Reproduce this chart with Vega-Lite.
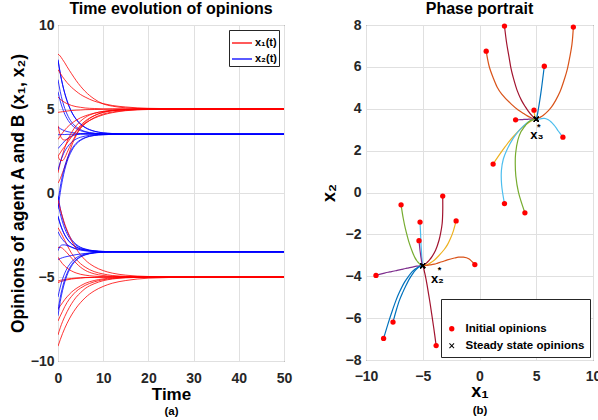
{
"$schema": "https://vega.github.io/schema/vega-lite/v6.json",
"padding": {"left": 8, "top": 0, "right": 5, "bottom": 5},
"background": "white",
"config": {
  "font": "Liberation Sans",
  "view": {"stroke": "#262626", "strokeWidth": 1},
  "axis": {"labelFont": "Liberation Sans", "labelFontWeight": "bold", "labelFontSize": 14, "labelColor": "#262626", "titleFont": "Liberation Sans", "titleFontWeight": "bold", "titleColor": "#000000", "domain": false, "ticks": false, "gridColor": "#E0E0E0", "gridWidth": 1, "labelFlush": false, "labelOverlap": false},
  "title": {"font": "Liberation Sans", "fontSize": 16, "fontWeight": "bold", "color": "#000000", "offset": 1},
  "legend": {"labelFont": "Liberation Sans", "labelFontWeight": "bold", "labelColor": "#000000", "strokeColor": "#262626", "fillColor": "white"}
},
"datasets": {
"traj": [
{"g":"U1","t":0,"a":0.59,"b":6.75},{"g":"U1","t":0.5,"a":0.85,"b":6.03},{"g":"U1","t":1,"a":1.21,"b":5.47},{"g":"U1","t":1.5,"a":1.56,"b":5.03},{"g":"U1","t":2,"a":1.96,"b":4.7},{"g":"U1","t":3,"a":2.8,"b":4.22},{"g":"U1","t":4,"a":3.41,"b":3.94},{"g":"U1","t":5,"a":3.9,"b":3.77},{"g":"U1","t":6,"a":4.21,"b":3.66},{"g":"U1","t":8,"a":4.6,"b":3.56},{"g":"U1","t":10,"a":4.8,"b":3.52},{"g":"U1","t":12,"a":4.9,"b":3.51},{"g":"U1","t":15,"a":4.96,"b":3.5},{"g":"U1","t":20,"a":5,"b":3.5},{"g":"U1","t":30,"a":5,"b":3.5},{"g":"U1","t":50,"a":5,"b":3.5},
{"g":"U2","t":0,"a":2.2,"b":7.95},{"g":"U2","t":0.5,"a":2.39,"b":7.14},{"g":"U2","t":1,"a":2.6,"b":6.48},{"g":"U2","t":1.5,"a":2.77,"b":5.94},{"g":"U2","t":2,"a":2.97,"b":5.5},{"g":"U2","t":3,"a":3.34,"b":4.84},{"g":"U2","t":4,"a":3.7,"b":4.4},{"g":"U2","t":5,"a":4.03,"b":4.1},{"g":"U2","t":6,"a":4.28,"b":3.9},{"g":"U2","t":8,"a":4.6,"b":3.68},{"g":"U2","t":10,"a":4.8,"b":3.58},{"g":"U2","t":12,"a":4.9,"b":3.54},{"g":"U2","t":15,"a":4.96,"b":3.51},{"g":"U2","t":20,"a":4.99,"b":3.5},{"g":"U2","t":30,"a":5,"b":3.5},{"g":"U2","t":50,"a":5,"b":3.5},
{"g":"U3","t":0,"a":8.27,"b":7.9},{"g":"U3","t":0.5,"a":8.15,"b":7.1},{"g":"U3","t":1,"a":7.95,"b":6.45},{"g":"U3","t":1.5,"a":7.75,"b":5.92},{"g":"U3","t":2,"a":7.52,"b":5.48},{"g":"U3","t":3,"a":7.1,"b":4.82},{"g":"U3","t":4,"a":6.7,"b":4.39},{"g":"U3","t":5,"a":6.35,"b":4.09},{"g":"U3","t":6,"a":6.05,"b":3.9},{"g":"U3","t":8,"a":5.6,"b":3.68},{"g":"U3","t":10,"a":5.3,"b":3.58},{"g":"U3","t":12,"a":5.17,"b":3.54},{"g":"U3","t":15,"a":5.07,"b":3.51},{"g":"U3","t":20,"a":5.02,"b":3.5},{"g":"U3","t":30,"a":5,"b":3.5},{"g":"U3","t":50,"a":5,"b":3.5},
{"g":"U4","t":0,"a":5.71,"b":6.03},{"g":"U4","t":0.5,"a":5.58,"b":5.47},{"g":"U4","t":1,"a":5.48,"b":5.04},{"g":"U4","t":1.5,"a":5.39,"b":4.69},{"g":"U4","t":2,"a":5.32,"b":4.43},{"g":"U4","t":3,"a":5.21,"b":4.06},{"g":"U4","t":4,"a":5.14,"b":3.84},{"g":"U4","t":5,"a":5.1,"b":3.71},{"g":"U4","t":6,"a":5.06,"b":3.63},{"g":"U4","t":8,"a":5.03,"b":3.55},{"g":"U4","t":10,"a":5.01,"b":3.52},{"g":"U4","t":12,"a":5.01,"b":3.51},{"g":"U4","t":15,"a":5,"b":3.5},{"g":"U4","t":20,"a":5,"b":3.5},{"g":"U4","t":30,"a":5,"b":3.5},{"g":"U4","t":50,"a":5,"b":3.5},
{"g":"U5","t":0,"a":4.8,"b":3.93},{"g":"U5","t":0.5,"a":4.82,"b":3.83},{"g":"U5","t":1,"a":4.84,"b":3.76},{"g":"U5","t":1.5,"a":4.86,"b":3.7},{"g":"U5","t":2,"a":4.88,"b":3.66},{"g":"U5","t":3,"a":4.91,"b":3.6},{"g":"U5","t":4,"a":4.93,"b":3.56},{"g":"U5","t":5,"a":4.94,"b":3.54},{"g":"U5","t":6,"a":4.96,"b":3.52},{"g":"U5","t":8,"a":4.97,"b":3.51},{"g":"U5","t":10,"a":4.98,"b":3.5},{"g":"U5","t":12,"a":4.99,"b":3.5},{"g":"U5","t":15,"a":5,"b":3.5},{"g":"U5","t":20,"a":5,"b":3.5},{"g":"U5","t":30,"a":5,"b":3.5},{"g":"U5","t":50,"a":5,"b":3.5},
{"g":"U6","t":0,"a":3.18,"b":3.47},{"g":"U6","t":0.5,"a":3.39,"b":3.47},{"g":"U6","t":1,"a":3.58,"b":3.48},{"g":"U6","t":1.5,"a":3.75,"b":3.48},{"g":"U6","t":2,"a":3.9,"b":3.49},{"g":"U6","t":3,"a":4.14,"b":3.49},{"g":"U6","t":4,"a":4.33,"b":3.5},{"g":"U6","t":5,"a":4.48,"b":3.5},{"g":"U6","t":6,"a":4.59,"b":3.5},{"g":"U6","t":8,"a":4.75,"b":3.5},{"g":"U6","t":10,"a":4.85,"b":3.5},{"g":"U6","t":12,"a":4.91,"b":3.5},{"g":"U6","t":15,"a":4.96,"b":3.5},{"g":"U6","t":20,"a":4.99,"b":3.5},{"g":"U6","t":30,"a":5,"b":3.5},{"g":"U6","t":50,"a":5,"b":3.5},
{"g":"U7","t":0,"a":7.35,"b":2.64},{"g":"U7","t":0.5,"a":7.13,"b":2.8},{"g":"U7","t":1,"a":6.92,"b":2.95},{"g":"U7","t":1.5,"a":6.74,"b":3.1},{"g":"U7","t":2,"a":6.57,"b":3.22},{"g":"U7","t":3,"a":6.29,"b":3.38},{"g":"U7","t":4,"a":6.06,"b":3.47},{"g":"U7","t":5,"a":5.86,"b":3.52},{"g":"U7","t":6,"a":5.71,"b":3.54},{"g":"U7","t":8,"a":5.47,"b":3.53},{"g":"U7","t":10,"a":5.32,"b":3.51},{"g":"U7","t":12,"a":5.21,"b":3.5},{"g":"U7","t":15,"a":5.12,"b":3.5},{"g":"U7","t":20,"a":5.04,"b":3.5},{"g":"U7","t":30,"a":5.01,"b":3.5},{"g":"U7","t":50,"a":5,"b":3.5},
{"g":"U8","t":0,"a":1.2,"b":1.36},{"g":"U8","t":0.5,"a":1.79,"b":1.83},{"g":"U8","t":1,"a":2.28,"b":2.2},{"g":"U8","t":1.5,"a":2.69,"b":2.49},{"g":"U8","t":2,"a":3.05,"b":2.71},{"g":"U8","t":3,"a":3.6,"b":3.02},{"g":"U8","t":4,"a":4.0,"b":3.21},{"g":"U8","t":5,"a":4.28,"b":3.32},{"g":"U8","t":6,"a":4.49,"b":3.39},{"g":"U8","t":8,"a":4.74,"b":3.46},{"g":"U8","t":10,"a":4.86,"b":3.49},{"g":"U8","t":12,"a":4.93,"b":3.49},{"g":"U8","t":15,"a":4.97,"b":3.5},{"g":"U8","t":20,"a":5,"b":3.5},{"g":"U8","t":30,"a":5,"b":3.5},{"g":"U8","t":50,"a":5,"b":3.5},
{"g":"U9","t":0,"a":2.2,"b":-0.53},{"g":"U9","t":0.5,"a":1.95,"b":0.36},{"g":"U9","t":1,"a":1.93,"b":1.05},{"g":"U9","t":1.5,"a":2.1,"b":1.6},{"g":"U9","t":2,"a":2.4,"b":2.02},{"g":"U9","t":3,"a":2.98,"b":2.6},{"g":"U9","t":4,"a":3.48,"b":2.96},{"g":"U9","t":5,"a":3.85,"b":3.17},{"g":"U9","t":6,"a":4.12,"b":3.3},{"g":"U9","t":8,"a":4.48,"b":3.43},{"g":"U9","t":10,"a":4.7,"b":3.47},{"g":"U9","t":12,"a":4.82,"b":3.49},{"g":"U9","t":15,"a":4.92,"b":3.5},{"g":"U9","t":20,"a":4.98,"b":3.5},{"g":"U9","t":30,"a":5,"b":3.5},{"g":"U9","t":50,"a":5,"b":3.5},
{"g":"U10","t":0,"a":4.0,"b":-0.97},{"g":"U10","t":0.5,"a":3.43,"b":0.02},{"g":"U10","t":1,"a":3.2,"b":0.79},{"g":"U10","t":1.5,"a":3.15,"b":1.39},{"g":"U10","t":2,"a":3.18,"b":1.86},{"g":"U10","t":3,"a":3.38,"b":2.5},{"g":"U10","t":4,"a":3.65,"b":2.9},{"g":"U10","t":5,"a":3.95,"b":3.13},{"g":"U10","t":6,"a":4.15,"b":3.28},{"g":"U10","t":8,"a":4.45,"b":3.42},{"g":"U10","t":10,"a":4.65,"b":3.47},{"g":"U10","t":12,"a":4.78,"b":3.49},{"g":"U10","t":15,"a":4.9,"b":3.5},{"g":"U10","t":20,"a":4.97,"b":3.5},{"g":"U10","t":30,"a":5,"b":3.5},{"g":"U10","t":50,"a":5,"b":3.5},
{"g":"L1","t":0,"a":-6.91,"b":-0.59},{"g":"L1","t":0.5,"a":-6.72,"b":-1.23},{"g":"L1","t":1,"a":-6.53,"b":-1.73},{"g":"L1","t":1.5,"a":-6.34,"b":-2.13},{"g":"L1","t":2,"a":-6.18,"b":-2.43},{"g":"L1","t":3,"a":-5.9,"b":-2.85},{"g":"L1","t":4,"a":-5.69,"b":-3.11},{"g":"L1","t":5,"a":-5.52,"b":-3.26},{"g":"L1","t":6,"a":-5.38,"b":-3.35},{"g":"L1","t":8,"a":-5.21,"b":-3.45},{"g":"L1","t":10,"a":-5.11,"b":-3.48},{"g":"L1","t":12,"a":-5.06,"b":-3.49},{"g":"L1","t":15,"a":-5.02,"b":-3.5},{"g":"L1","t":20,"a":-5,"b":-3.5},{"g":"L1","t":30,"a":-5,"b":-3.5},{"g":"L1","t":50,"a":-5,"b":-3.5},
{"g":"L2","t":0,"a":-3.24,"b":-0.17},{"g":"L2","t":0.5,"a":-3.24,"b":-0.91},{"g":"L2","t":1,"a":-3.29,"b":-1.48},{"g":"L2","t":1.5,"a":-3.42,"b":-1.93},{"g":"L2","t":2,"a":-3.56,"b":-2.27},{"g":"L2","t":3,"a":-3.87,"b":-2.76},{"g":"L2","t":4,"a":-4.17,"b":-3.05},{"g":"L2","t":5,"a":-4.42,"b":-3.23},{"g":"L2","t":6,"a":-4.6,"b":-3.33},{"g":"L2","t":8,"a":-4.81,"b":-3.44},{"g":"L2","t":10,"a":-4.91,"b":-3.48},{"g":"L2","t":12,"a":-4.96,"b":-3.49},{"g":"L2","t":15,"a":-4.98,"b":-3.5},{"g":"L2","t":20,"a":-5,"b":-3.5},{"g":"L2","t":30,"a":-5,"b":-3.5},{"g":"L2","t":50,"a":-5,"b":-3.5},
{"g":"L3","t":0,"a":-5.24,"b":-1.41},{"g":"L3","t":0.5,"a":-5.2,"b":-1.87},{"g":"L3","t":1,"a":-5.17,"b":-2.23},{"g":"L3","t":1.5,"a":-5.15,"b":-2.51},{"g":"L3","t":2,"a":-5.12,"b":-2.73},{"g":"L3","t":3,"a":-5.09,"b":-3.03},{"g":"L3","t":4,"a":-5.06,"b":-3.22},{"g":"L3","t":5,"a":-5.05,"b":-3.33},{"g":"L3","t":6,"a":-5.03,"b":-3.4},{"g":"L3","t":8,"a":-5.02,"b":-3.46},{"g":"L3","t":10,"a":-5.01,"b":-3.49},{"g":"L3","t":12,"a":-5,"b":-3.49},{"g":"L3","t":15,"a":-5,"b":-3.5},{"g":"L3","t":20,"a":-5,"b":-3.5},{"g":"L3","t":30,"a":-5,"b":-3.5},{"g":"L3","t":50,"a":-5,"b":-3.5},
{"g":"L4","t":0,"a":-2.06,"b":-1.36},{"g":"L4","t":0.5,"a":-2.3,"b":-1.83},{"g":"L4","t":1,"a":-2.56,"b":-2.2},{"g":"L4","t":1.5,"a":-2.82,"b":-2.49},{"g":"L4","t":2,"a":-3.09,"b":-2.71},{"g":"L4","t":3,"a":-3.59,"b":-3.02},{"g":"L4","t":4,"a":-3.94,"b":-3.21},{"g":"L4","t":5,"a":-4.21,"b":-3.32},{"g":"L4","t":6,"a":-4.41,"b":-3.39},{"g":"L4","t":8,"a":-4.68,"b":-3.46},{"g":"L4","t":10,"a":-4.82,"b":-3.49},{"g":"L4","t":12,"a":-4.91,"b":-3.49},{"g":"L4","t":15,"a":-4.96,"b":-3.5},{"g":"L4","t":20,"a":-4.99,"b":-3.5},{"g":"L4","t":30,"a":-5,"b":-3.5},{"g":"L4","t":50,"a":-5,"b":-3.5},
{"g":"L5","t":0,"a":-5.33,"b":-2.3},{"g":"L5","t":0.5,"a":-5.28,"b":-2.57},{"g":"L5","t":1,"a":-5.24,"b":-2.77},{"g":"L5","t":1.5,"a":-5.2,"b":-2.93},{"g":"L5","t":2,"a":-5.17,"b":-3.06},{"g":"L5","t":3,"a":-5.12,"b":-3.23},{"g":"L5","t":4,"a":-5.09,"b":-3.34},{"g":"L5","t":5,"a":-5.06,"b":-3.4},{"g":"L5","t":6,"a":-5.04,"b":-3.44},{"g":"L5","t":8,"a":-5.02,"b":-3.48},{"g":"L5","t":10,"a":-5.01,"b":-3.49},{"g":"L5","t":12,"a":-5.01,"b":-3.5},{"g":"L5","t":15,"a":-5,"b":-3.5},{"g":"L5","t":20,"a":-5,"b":-3.5},{"g":"L5","t":30,"a":-5,"b":-3.5},{"g":"L5","t":50,"a":-5,"b":-3.5},
{"g":"L6","t":0,"a":-0.41,"b":-3.44},{"g":"L6","t":0.5,"a":-0.95,"b":-3.16},{"g":"L6","t":1,"a":-1.42,"b":-3.09},{"g":"L6","t":1.5,"a":-1.85,"b":-3.09},{"g":"L6","t":2,"a":-2.21,"b":-3.13},{"g":"L6","t":3,"a":-2.83,"b":-3.22},{"g":"L6","t":4,"a":-3.31,"b":-3.31},{"g":"L6","t":5,"a":-3.68,"b":-3.37},{"g":"L6","t":6,"a":-3.98,"b":-3.42},{"g":"L6","t":8,"a":-4.38,"b":-3.46},{"g":"L6","t":10,"a":-4.62,"b":-3.48},{"g":"L6","t":12,"a":-4.77,"b":-3.49},{"g":"L6","t":15,"a":-4.89,"b":-3.5},{"g":"L6","t":20,"a":-4.97,"b":-3.5},{"g":"L6","t":30,"a":-5,"b":-3.5},{"g":"L6","t":50,"a":-5,"b":-3.5},
{"g":"L7","t":0,"a":-9.12,"b":-3.96},{"g":"L7","t":0.5,"a":-8.73,"b":-3.9},{"g":"L7","t":1,"a":-8.37,"b":-3.85},{"g":"L7","t":1.5,"a":-8.05,"b":-3.81},{"g":"L7","t":2,"a":-7.76,"b":-3.78},{"g":"L7","t":3,"a":-7.26,"b":-3.72},{"g":"L7","t":4,"a":-6.85,"b":-3.67},{"g":"L7","t":5,"a":-6.52,"b":-3.63},{"g":"L7","t":6,"a":-6.24,"b":-3.6},{"g":"L7","t":8,"a":-5.83,"b":-3.55},{"g":"L7","t":10,"a":-5.56,"b":-3.52},{"g":"L7","t":12,"a":-5.37,"b":-3.51},{"g":"L7","t":15,"a":-5.21,"b":-3.5},{"g":"L7","t":20,"a":-5.07,"b":-3.5},{"g":"L7","t":30,"a":-5.01,"b":-3.5},{"g":"L7","t":50,"a":-5,"b":-3.5},
{"g":"L8","t":0,"a":-7.62,"b":-6.19},{"g":"L8","t":0.5,"a":-7.32,"b":-5.6},{"g":"L8","t":1,"a":-7.04,"b":-5.13},{"g":"L8","t":1.5,"a":-6.76,"b":-4.77},{"g":"L8","t":2,"a":-6.52,"b":-4.49},{"g":"L8","t":3,"a":-6.15,"b":-4.1},{"g":"L8","t":4,"a":-5.86,"b":-3.86},{"g":"L8","t":5,"a":-5.66,"b":-3.72},{"g":"L8","t":6,"a":-5.5,"b":-3.63},{"g":"L8","t":8,"a":-5.29,"b":-3.55},{"g":"L8","t":10,"a":-5.16,"b":-3.52},{"g":"L8","t":12,"a":-5.09,"b":-3.51},{"g":"L8","t":15,"a":-5.03,"b":-3.5},{"g":"L8","t":20,"a":-5.01,"b":-3.5},{"g":"L8","t":30,"a":-5,"b":-3.5},{"g":"L8","t":50,"a":-5,"b":-3.5},
{"g":"L9","t":0,"a":-8.45,"b":-6.97},{"g":"L9","t":0.5,"a":-8.02,"b":-6.2},{"g":"L9","t":1,"a":-7.66,"b":-5.61},{"g":"L9","t":1.5,"a":-7.35,"b":-5.14},{"g":"L9","t":2,"a":-7.07,"b":-4.78},{"g":"L9","t":3,"a":-6.59,"b":-4.27},{"g":"L9","t":4,"a":-6.21,"b":-3.97},{"g":"L9","t":5,"a":-5.93,"b":-3.78},{"g":"L9","t":6,"a":-5.69,"b":-3.67},{"g":"L9","t":8,"a":-5.4,"b":-3.56},{"g":"L9","t":10,"a":-5.22,"b":-3.52},{"g":"L9","t":12,"a":-5.12,"b":-3.51},{"g":"L9","t":15,"a":-5.05,"b":-3.5},{"g":"L9","t":20,"a":-5.01,"b":-3.5},{"g":"L9","t":30,"a":-5,"b":-3.5},{"g":"L9","t":50,"a":-5,"b":-3.5},
{"g":"L10","t":0,"a":-3.82,"b":-7.31},{"g":"L10","t":0.5,"a":-4.03,"b":-6.47},{"g":"L10","t":1,"a":-4.21,"b":-5.81},{"g":"L10","t":1.5,"a":-4.35,"b":-5.3},{"g":"L10","t":2,"a":-4.47,"b":-4.9},{"g":"L10","t":3,"a":-4.64,"b":-4.35},{"g":"L10","t":4,"a":-4.76,"b":-4.01},{"g":"L10","t":5,"a":-4.84,"b":-3.81},{"g":"L10","t":6,"a":-4.89,"b":-3.69},{"g":"L10","t":8,"a":-4.95,"b":-3.57},{"g":"L10","t":10,"a":-4.98,"b":-3.53},{"g":"L10","t":12,"a":-4.99,"b":-3.51},{"g":"L10","t":15,"a":-5,"b":-3.5},{"g":"L10","t":20,"a":-5,"b":-3.5},{"g":"L10","t":30,"a":-5,"b":-3.5},{"g":"L10","t":50,"a":-5,"b":-3.5}
],
"notes": [
{"a":5.06,"b":2.76,"s":"x₃","k":"main"},{"a":5.23,"b":3.12,"s":"*","k":"star"},
{"a":-3.71,"b":-4.12,"s":"x₂","k":"main"},{"a":-3.53,"b":-3.72,"s":"*","k":"star"}
]
},
"bounds": "flush",
"spacing": 82,
"resolve": {"scale": {"color": "independent", "stroke": "independent", "fill": "independent", "shape": "independent"}, "legend": {"color": "independent", "stroke": "independent", "fill": "independent", "shape": "independent"}},
"hconcat": [
{
  "width": 226, "height": 336,
  "title": {"text": "Time evolution of opinions"},
  "layer": [
    {
      "data": {"name": "traj"},
      "transform": [{"fold": ["a", "b"], "as": ["var", "val"]}],
      "mark": {"type": "line", "strokeWidth": 0.8, "interpolate": "monotone", "clip": true},
      "encoding": {
        "x": {"field": "t", "type": "quantitative", "scale": {"domain": [0, 50], "nice": false}, "axis": {"orient": "bottom", "values": [0, 10, 20, 30, 40, 50], "title": "Time", "titleFontSize": 17, "titlePadding": 1, "labelPadding": 10, "grid": true}},
        "y": {"field": "val", "type": "quantitative", "scale": {"domain": [-10, 10], "nice": false}, "axis": {"values": [-10, -5, 0, 5, 10], "title": "Opinions of agent A and B (x₁, x₂)", "titleFontSize": 17.5, "titlePadding": 3, "labelPadding": 4, "grid": true}},
        "stroke": {"field": "var", "type": "nominal", "scale": {"domain": ["a", "b"], "range": ["#FF0000", "#0000FF"]},
          "legend": {"orient": "top-right", "offset": 5, "title": null, "symbolType": "stroke", "symbolSize": 400, "symbolStrokeWidth": 1.3, "labelFontSize": 11, "labelOffset": 2, "padding": 2, "rowPadding": 0, "labelExpr": "datum.label == 'a' ? 'x₁(t)' : 'x₂(t)'"}},
        "detail": {"field": "g"},
        "order": {"field": "t"}
      }
    },
    {
      "data": {"values": [{"t": 0}]},
      "mark": {"type": "rule", "opacity": 0},
      "encoding": {
        "x": {"field": "t", "type": "quantitative", "scale": {"domain": [0, 50], "nice": false}, "axis": {"orient": "bottom", "title": "(a)", "labels": false, "ticks": false, "domain": false, "grid": false, "offset": 44, "titlePadding": 0, "titleFontSize": 11.5}}
      }
    }
  ],
  "resolve": {"axis": {"x": "independent"}}
},
{
  "width": 227, "height": 335,
  "title": {"text": "Phase portrait"},
  "layer": [
    {
      "data": {"name": "traj"},
      "mark": {"type": "line", "strokeWidth": 1.2, "interpolate": "catmull-rom", "clip": true},
      "encoding": {
        "x": {"field": "a", "type": "quantitative", "scale": {"domain": [-10, 10], "nice": false}, "axis": {"orient": "bottom", "values": [-10, -5, 0, 5, 10], "title": "x₁", "titleFontSize": 18, "titlePadding": -1, "labelPadding": 9, "grid": true}},
        "y": {"field": "b", "type": "quantitative", "scale": {"domain": [-8, 8], "nice": false}, "axis": {"values": [-8, -6, -4, -2, 0, 2, 4, 6, 8], "title": "x₂", "titleFontSize": 18, "titlePadding": 7, "labelPadding": 5, "grid": true}},
        "color": {"field": "g", "type": "nominal", "legend": null, "scale": {"domain": ["U1","U2","U3","U4","U5","U6","U7","U8","U9","U10","L1","L2","L3","L4","L5","L6","L7","L8","L9","L10"], "range": ["#D95319","#A2142F","#D95319","#0072BD","#EDB120","#7E2F8E","#4DBEEE","#EDB120","#4DBEEE","#77AC30","#77AC30","#A2142F","#4DBEEE","#EDB120","#7E2F8E","#D95319","#7E2F8E","#0072BD","#0072BD","#A2142F"]}},
        "order": {"field": "t"}
      }
    },
    {
      "data": {"name": "traj"},
      "transform": [{"filter": "datum.t == 0 || datum.t == 50"}],
      "mark": {"type": "point", "filled": true, "opacity": 1, "size": 28},
      "encoding": {
        "x": {"field": "a", "type": "quantitative", "scale": {"domain": [-10, 10], "nice": false}, "axis": null},
        "y": {"field": "b", "type": "quantitative", "scale": {"domain": [-8, 8], "nice": false}},
        "fill": {"field": "t", "type": "nominal", "scale": {"domain": [0, 50], "range": ["#FF0000", "#000000"]},
          "legend": {"orient": "bottom-right", "offset": 3, "title": " ", "titleFontSize": 13, "titlePadding": 6, "padding": 5, "labelFontSize": 11.5, "labelOffset": 8, "rowPadding": 4, "symbolSize": 28, "labelExpr": "datum.value == 0 ? 'Initial opinions' : 'Steady state opinions'"}},
        "shape": {"field": "t", "type": "nominal", "scale": {"domain": [0, 50], "range": ["circle", "M-1,-0.75L-0.75,-1L0,-0.25L0.75,-1L1,-0.75L0.25,0L1,0.75L0.75,1L0,0.25L-0.75,1L-1,0.75L-0.25,0Z"]}}
      }
    },
    {
      "data": {"name": "notes"},
      "transform": [{"filter": "datum.k == 'main'"}],
      "mark": {"type": "text", "fontSize": 13, "fontWeight": "bold", "font": "Liberation Sans", "color": "#000000", "align": "center", "baseline": "middle"},
      "encoding": {
        "x": {"field": "a", "type": "quantitative", "scale": {"domain": [-10, 10], "nice": false}, "axis": null},
        "y": {"field": "b", "type": "quantitative", "scale": {"domain": [-8, 8], "nice": false}},
        "text": {"field": "s"}
      }
    },
    {
      "data": {"name": "notes"},
      "transform": [{"filter": "datum.k == 'star'"}],
      "mark": {"type": "text", "fontSize": 9, "fontWeight": "bold", "font": "Liberation Sans", "color": "#000000", "align": "center", "baseline": "middle"},
      "encoding": {
        "x": {"field": "a", "type": "quantitative", "scale": {"domain": [-10, 10], "nice": false}, "axis": null},
        "y": {"field": "b", "type": "quantitative", "scale": {"domain": [-8, 8], "nice": false}},
        "text": {"field": "s"}
      }
    },
    {
      "data": {"values": [{"a": 0}]},
      "mark": {"type": "rule", "opacity": 0},
      "encoding": {
        "x": {"field": "a", "type": "quantitative", "scale": {"domain": [-10, 10], "nice": false}, "axis": {"orient": "bottom", "title": "(b)", "labels": false, "ticks": false, "domain": false, "grid": false, "offset": 44, "titlePadding": 0, "titleFontSize": 11.5}}
      }
    }
  ],
  "resolve": {"axis": {"x": "independent"}}
}
]
}
